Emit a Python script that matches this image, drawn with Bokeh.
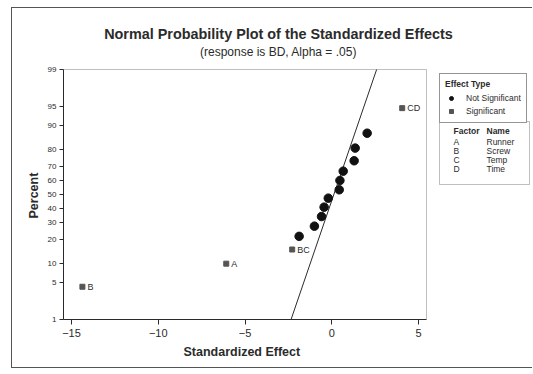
from statistics import NormalDist
from bokeh.plotting import figure
from bokeh.core.properties import value
from bokeh.models import (Range1d, FixedTicker, Legend, LegendItem, Label,
                          BoxAnnotation, ColumnDataSource, Title)
from bokeh.embed import file_html
from bokeh.resources import INLINE

# ---------------- data ----------------
pct_ticks = [1, 5, 10, 20, 30, 40, 50, 60, 70, 80, 90, 95, 99]
x_ticks = [-15, -10, -5, 0, 5]
x_lo, x_hi = -15.46, 5.46          # plotted effect range
p_lo, p_hi = 1, 99                 # plotted percent range

sig_labels = ["B", "A", "BC", "CD"]
sig_effects = [-14.37, -6.08, -2.28, 4.06]
sig_percent = [4.3, 9.9, 15.3, 94.6]

ns_effects = [-1.88, -1.0, -0.59, -0.44, -0.2, 0.43, 0.47, 0.66, 1.29, 1.35, 2.04]
ns_percent = [21.8, 27.8, 34.1, 40.7, 47.3, 53.5, 60.3, 66.8, 73.5, 80.6, 87.3]

fit_mean = 0.12
fit_sd = 1.06
fit_percent = [1, 99]

factor_codes = ["A", "B", "C", "D"]
factor_names = ["Runner", "Screw", "Temp", "Time"]

# ---------------- helpers ----------------
nd = NormalDist()


def z(pv):
    return nd.inv_cdf(pv / 100.0)


FONT = "Liberation Sans"
INK = "#2b2b2b"

# canvas placement on the page
CX, CY = 12, 8            # canvas origin on page (after css margin + border)
W, H = 521, 361
# plot frame in page px
PFL, PFB, PFT, PFR = 63, 319, 8, 531
PX_PER_X = (426 - 63) / (x_hi - x_lo)
PX_PER_Z = (319 - 69) / (z(p_hi) - z(p_lo))
x_end = x_hi + (PFR - 426) / PX_PER_X
y_end = z(p_hi) + (69 - PFT) / PX_PER_Z

p = figure(width=W, height=H, output_backend="svg", toolbar_location=None,
           x_range=Range1d(x_lo, x_end), y_range=Range1d(z(p_lo), y_end),
           min_border_left=PFL - CX, min_border_right=(CX + W) - PFR,
           min_border_top=PFT - CY, min_border_bottom=(CY + H) - PFB,
           background_fill_color="white", border_fill_color="white",
           styles={"margin-left": "11px", "margin-top": "7px",
                   "border-left": "1px solid #555",
                   "border-top": "1px solid #555",
                   "border-bottom": "1px solid #555"})
p.grid.visible = False
p.outline_line_color = None

# plot box
p.add_layout(BoxAnnotation(left=x_lo, right=x_hi, bottom=z(p_lo), top=z(p_hi),
                           fill_alpha=0, line_color=INK, line_width=1))

# axes
p.xaxis.ticker = FixedTicker(ticks=x_ticks)
p.xaxis.bounds = (x_lo, x_hi)
p.xaxis.minor_tick_line_color = None
p.xaxis.major_tick_out = 5
p.xaxis.major_tick_in = 0
p.xaxis.major_label_standoff = 4
p.xaxis.major_label_text_font_size = "11px"

ytick_vals = [z(v) for v in pct_ticks]
p.yaxis.ticker = FixedTicker(ticks=ytick_vals)
p.yaxis.bounds = (z(p_lo), z(p_hi))
p.yaxis.major_label_overrides = {zv: str(v) for zv, v in zip(ytick_vals, pct_ticks)}
p.yaxis.minor_tick_line_color = None
p.yaxis.major_tick_out = 4
p.yaxis.major_tick_in = 0
p.yaxis.major_label_standoff = 3
p.yaxis.major_label_text_font_size = "8px"

for ax in (p.xaxis[0], p.yaxis[0]):
    ax.axis_line_color = INK
    ax.major_tick_line_color = INK
    ax.major_label_text_font = FONT
    ax.major_label_text_color = INK

# axis titles, placed along the bounded part of each axis
p.add_layout(Title(text="Standardized Effect", align="left", offset=120,
                   standoff=6, text_font=FONT, text_font_size="12.5px",
                   text_font_style="bold", text_color=INK), "below")
p.add_layout(Title(text="Percent", align="left", offset=101,
                   standoff=8, text_font=FONT, text_font_size="12.5px",
                   text_font_style="bold", text_color=INK), "left")

# fitted line
fit_x = [fit_mean + fit_sd * z(v) for v in fit_percent]
fit_y = [z(v) for v in fit_percent]
p.line(fit_x, fit_y, line_color=INK, line_width=1)

# points
ns_src = ColumnDataSource(dict(x=ns_effects, y=[z(v) for v in ns_percent]))
sig_src = ColumnDataSource(dict(x=sig_effects, y=[z(v) for v in sig_percent],
                                lab=sig_labels))
r_ns = p.scatter("x", "y", source=ns_src, marker="circle", size=8.5,
                 fill_color="#111111", line_color="#111111")
r_sig = p.scatter("x", "y", source=sig_src, marker="square", size=5,
                  fill_color="#555555", line_color="#555555")
p.text("x", "y", text="lab", source=sig_src, x_offset=5, text_baseline="middle",
       text_font_size="9px", text_color=INK, text_font=value(FONT))


# texts placed in screen px relative to the frame's bottom-left
def lbl(x_page, y_page, text, size, bold=False, align="center"):
    return Label(x=x_page - PFL, y=PFB - y_page, x_units="screen",
                 y_units="screen", text=text, text_align=align,
                 text_baseline="middle", text_font=FONT, text_font_size=size,
                 text_font_style="bold" if bold else "normal", text_color=INK)


p.add_layout(lbl(278, 33, "Normal Probability Plot of the Standardized Effects",
                 "14.4px", bold=True))
p.add_layout(lbl(278, 51, "(response is BD, Alpha = .05)", "12px"))

# legend 1 : effect type
legend = Legend(items=[LegendItem(label="Not Significant", renderers=[r_ns]),
                       LegendItem(label="Significant", renderers=[r_sig])],
                title="Effect Type",
                location=(439 - PFL, PFB - 123),
                label_text_font=FONT, label_text_font_size="8.5px",
                label_text_color=INK, title_text_font=FONT,
                title_text_font_size="8.5px", title_text_font_style="bold",
                title_text_color=INK, glyph_width=12, glyph_height=10,
                label_height=12, label_standoff=9, spacing=1, padding=5,
                title_standoff=3, margin=0, border_line_color=INK,
                background_fill_alpha=1)
p.add_layout(legend, "center")

# legend 2 : factor names
p.add_layout(BoxAnnotation(left=439 - PFL, right=529 - PFL,
                           top=PFB - 121, bottom=PFB - 184,
                           left_units="screen", right_units="screen",
                           top_units="screen", bottom_units="screen",
                           fill_color="white", fill_alpha=1, line_color=INK,
                           line_width=1))
p.add_layout(lbl(453, 130, "Factor", "8.5px", bold=True, align="left"))
p.add_layout(lbl(486, 130, "Name", "8.5px", bold=True, align="left"))
row_y = [141, 150, 159, 168]
for code, name, yy in zip(factor_codes, factor_names, row_y):
    p.add_layout(lbl(453, yy, code, "8.5px", align="left"))
    p.add_layout(lbl(486, yy, name, "8.5px", align="left"))

open("out.html", "w").write(file_html(p, INLINE))
